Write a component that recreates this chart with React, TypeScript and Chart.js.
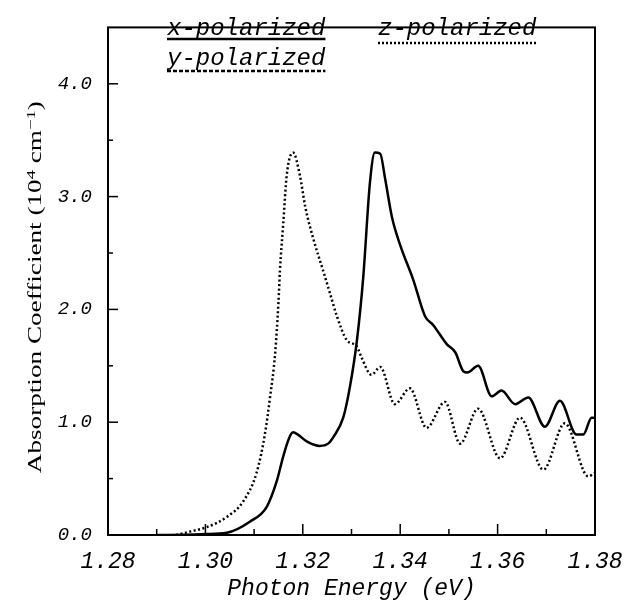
import React, { useEffect, useRef } from "react";
import { Chart, registerables } from "chart.js";

Chart.register(...registerables);

// ---- Data ----
const xPolEnergy = [
  1.29, 1.296, 1.3, 1.3044, 1.3092, 1.3126, 1.3146, 1.316, 1.3172, 1.318, 1.319,
  1.3208, 1.3235, 1.3252, 1.3263, 1.3283, 1.3297, 1.3311, 1.3324, 1.3338, 1.3348,
  1.3359, 1.3369, 1.3383, 1.34, 1.3427, 1.3451, 1.3468, 1.3496, 1.3513, 1.353,
  1.3538, 1.356, 1.3588, 1.3608, 1.3636, 1.3663, 1.3697, 1.3728, 1.3762, 1.3776,
  1.3793, 1.38,
];
const xPolValues = [
  0.0, 0.003, 0.008, 0.02, 0.12, 0.25, 0.47, 0.7, 0.86, 0.91, 0.89,
  0.83, 0.79, 0.81, 0.87, 1.04, 1.32, 1.72, 2.28, 3.13, 3.39,
  3.38, 3.16, 2.82, 2.57, 2.26, 1.94, 1.86, 1.69, 1.62, 1.45,
  1.44, 1.5, 1.23, 1.28, 1.16, 1.22, 0.96, 1.19, 0.89, 0.89,
  1.04, 1.04,
];
const zPolEnergy = [
  1.294, 1.2968, 1.3003, 1.3044, 1.3078, 1.3105, 1.3122, 1.3133, 1.3143, 1.315,
  1.3153, 1.316, 1.3167, 1.318, 1.3194, 1.3205, 1.3222, 1.3242, 1.3256, 1.327,
  1.329, 1.3311, 1.3321, 1.3341, 1.3359, 1.3389, 1.342, 1.3454, 1.3492, 1.3523,
  1.356, 1.3605, 1.3646, 1.3694, 1.3738, 1.3786, 1.38,
];
const zPolValues = [
  0.0, 0.03, 0.07, 0.16, 0.3, 0.55, 0.89, 1.23, 1.6, 2.06,
  2.34, 2.77, 3.19, 3.39, 3.19, 2.91, 2.62, 2.34, 2.14, 1.94,
  1.73, 1.67, 1.57, 1.42, 1.49, 1.16, 1.3, 0.95, 1.18, 0.81,
  1.12, 0.68, 1.04, 0.58, 0.99, 0.52, 0.55,
];
const xTickValues = [1.28, 1.3, 1.32, 1.34, 1.36, 1.38];
const xMinorTickValues = [1.29, 1.31, 1.33, 1.35, 1.37];
const yTickValues = [0, 1, 2, 3, 4];
const yMinorTickValues = [0.5, 1.5, 2.5, 3.5];
const legendLabels = ["x-polarized", "z-polarized", "y-polarized"];
const xAxisTitle = "Photon Energy (eV)";
const yAxisTitleParts = [
  { t: "Absorption Coefficient (10", sup: false },
  { t: "4", sup: true },
  { t: " cm", sup: false },
  { t: "\u22121", sup: true },
  { t: ")", sup: false },
];

const MONO = '"Liberation Mono", "Courier New", monospace';
const SERIF = '"Liberation Serif", "Times New Roman", serif';

const framePlugin = {
  id: "frameAndTicks",
  afterDraw(chart: any) {
    const { ctx, chartArea, scales } = chart;
    const { left, right, top, bottom } = chartArea;
    const xs = scales.x;
    const ys = scales.y;
    ctx.save();
    ctx.strokeStyle = "#000";
    ctx.lineWidth = 2;
    ctx.strokeRect(left, top, right - left, bottom - top);
    ctx.lineWidth = 1.5;
    const line = (x1: number, y1: number, x2: number, y2: number) => {
      ctx.beginPath();
      ctx.moveTo(x1, y1);
      ctx.lineTo(x2, y2);
      ctx.stroke();
    };
    xTickValues.forEach((v) => {
      const p = xs.getPixelForValue(v);
      line(p, bottom, p, bottom - 11);
    });
    xMinorTickValues.forEach((v) => {
      const p = xs.getPixelForValue(v);
      line(p, bottom, p, bottom - 6);
    });
    yTickValues.forEach((v) => {
      const p = ys.getPixelForValue(v);
      line(left, p, left + 10, p);
    });
    yMinorTickValues.forEach((v) => {
      const p = ys.getPixelForValue(v);
      line(left, p, left + 5, p);
    });

    // Legend (text with line-style underline samples)
    ctx.fillStyle = "#000";
    ctx.font = `italic 24px ${MONO}`;
    ctx.textBaseline = "alphabetic";
    ctx.textAlign = "left";
    const entries = [
      { label: legendLabels[0], x: 167, y: 35, uy: 39, dash: [] as number[] },
      { label: legendLabels[1], x: 378, y: 35, uy: 43, dash: [2, 2] },
      { label: legendLabels[2], x: 167, y: 65, uy: 71, dash: [4, 2] },
    ];
    entries.forEach((e) => {
      ctx.fillText(e.label, e.x, e.y);
      const w = ctx.measureText(e.label).width;
      ctx.save();
      ctx.lineWidth = 2.5;
      ctx.setLineDash(e.dash);
      line(e.x, e.uy, e.x + w, e.uy);
      ctx.restore();
    });

    // Y axis title (stretched serif, with superscripts)
    ctx.save();
    const baseFont = `19px ${SERIF}`;
    const supFont = `13px ${SERIF}`;
    let total = 0;
    const widths = yAxisTitleParts.map((p) => {
      ctx.font = p.sup ? supFont : baseFont;
      const w = ctx.measureText(p.t).width;
      total += w;
      return w;
    });
    const targetLen = 372;
    const sx = targetLen / total;
    ctx.translate(41, (top + bottom) / 2 + 6);
    ctx.rotate(-Math.PI / 2);
    ctx.scale(sx, 1);
    let cx = -total / 2;
    yAxisTitleParts.forEach((p, i) => {
      ctx.font = p.sup ? supFont : baseFont;
      ctx.fillText(p.t, cx, p.sup ? -6 : 0);
      cx += widths[i];
    });
    ctx.restore();
    ctx.restore();
  },
};

export default function App() {
  const ref = useRef<HTMLCanvasElement | null>(null);
  useEffect(() => {
    if (!ref.current) return;
    const chart = new Chart(ref.current, {
      type: "line",
      data: {
        datasets: [
          {
            label: legendLabels[0],
            data: xPolEnergy.map((e, i) => ({ x: e, y: xPolValues[i] })),
            borderColor: "#000",
            borderWidth: 2.5,
            pointRadius: 0,
            cubicInterpolationMode: "monotone",
            fill: false,
          },
          {
            label: legendLabels[1],
            data: zPolEnergy.map((e, i) => ({ x: e, y: zPolValues[i] })),
            borderColor: "#000",
            borderWidth: 2.5,
            borderDash: [2, 2.5],
            pointRadius: 0,
            cubicInterpolationMode: "monotone",
            fill: false,
          },
        ],
      },
      options: {
        responsive: false,
        animation: false,
        layout: { padding: { left: 0, top: 5, right: 48, bottom: 0 } },
        plugins: { legend: { display: false }, tooltip: { enabled: false } },
        scales: {
          x: {
            type: "linear",
            min: 1.28,
            max: 1.38,
            afterBuildTicks: (s: any) => {
              s.ticks = xTickValues.map((v) => ({ value: v }));
            },
            afterFit: (s: any) => {
              s.height = 70;
            },
            ticks: {
              callback: (v: any) => Number(v).toFixed(2),
              padding: 13,
              maxRotation: 0,
              autoSkip: false,
              color: "#000",
              font: { family: MONO, size: 23, style: "italic" },
            },
            grid: { display: false, drawTicks: false },
            border: { display: false },
            title: {
              display: true,
              text: xAxisTitle,
              color: "#000",
              font: { family: MONO, size: 23, style: "italic" },
              padding: { top: 0, bottom: 2 },
            },
          },
          y: {
            type: "linear",
            min: 0,
            max: 4.5,
            afterBuildTicks: (s: any) => {
              s.ticks = yTickValues.map((v) => ({ value: v }));
            },
            afterFit: (s: any) => {
              s.width = 108;
            },
            ticks: {
              callback: (v: any) => Number(v).toFixed(1),
              padding: 16,
              color: "#000",
              font: { family: MONO, size: 19, style: "italic" },
            },
            grid: { display: false, drawTicks: false },
            border: { display: false },
          },
        },
      },
      plugins: [framePlugin],
    });
    return () => chart.destroy();
  }, []);
  return (
    <div style={{ position: "fixed", left: 0, top: 0, width: 643, height: 605, background: "#fff" }}>
      <canvas ref={ref} width={643} height={605} style={{ display: "block" }} />
    </div>
  );
}
